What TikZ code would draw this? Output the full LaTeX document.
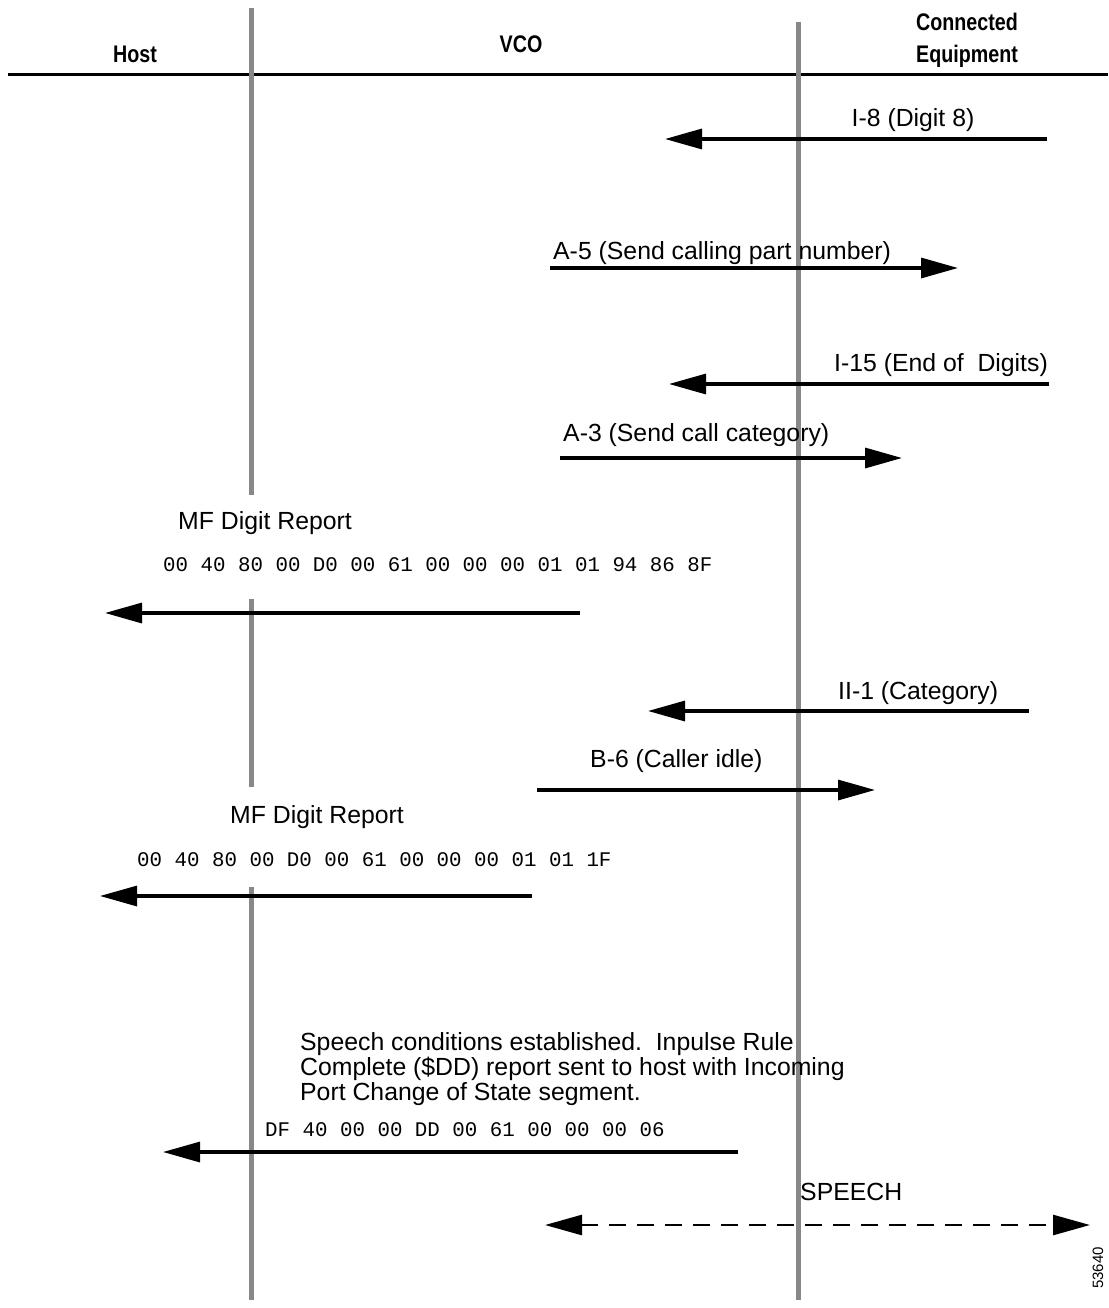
\documentclass[tikz,border=0pt]{standalone}
\usepackage{fontspec}
\setmainfont{Liberation Sans}
\setmonofont{Liberation Mono}
\usetikzlibrary{arrows.meta}
\definecolor{lifegray}{RGB}{136,136,136}
\newcommand{\hdrtext}[1]{\scalebox{0.82}[1]{#1}}
\begin{document}
\begin{tikzpicture}[x=1pt,y=-1pt,
  lifeline/.style={draw=lifegray,line width=5pt},
  msg/.style={line width=3.2pt,-{Triangle[length=37pt,width=20pt]}},
  lbl/.style={inner sep=0pt,font=\fontsize{24.8}{25}\selectfont},
  hexlbl/.style={inner sep=0pt,font=\ttfamily\fontsize{20.8}{22}\selectfont},
  hdr/.style={inner sep=0pt,font=\bfseries\fontsize{24}{26}\selectfont}]
\useasboundingbox (0,0) rectangle (1108,1308);

% header
\coordinate (hl1) at (8,75);
\coordinate (hl2) at (1108,75);
\draw[line width=3pt] (hl1) -- (hl2);
\node[hdr,anchor=base] (host) at (135,63) {\hdrtext{Host}};
\node[hdr,anchor=base] (vco) at (521,53) {\hdrtext{VCO}};
\node[hdr,anchor=base] (conn) at (967,31) {\hdrtext{Connected}};
\node[hdr,anchor=base] (equip) at (967,63) {\hdrtext{Equipment}};

% lifelines
\coordinate (hA1) at (251,8);   \coordinate (hA2) at (251,495);
\coordinate (hB1) at (251,599); \coordinate (hB2) at (251,787);
\coordinate (hC1) at (251,887); \coordinate (hC2) at (251,1300);
\coordinate (v1) at (798,22);   \coordinate (v2) at (798,1300);
\draw[lifeline] (hA1) -- (hA2);
\draw[lifeline] (hB1) -- (hB2);
\draw[lifeline] (hC1) -- (hC2);
\draw[lifeline] (v1) -- (v2);

% 1 I-8
\coordinate (m1s) at (1047,139); \coordinate (m1e) at (665,139);
\draw[msg] (m1s) -- (m1e);
\node[lbl,anchor=base] (l1) at (913,127) {I-8 (Digit 8)};

% 2 A-5
\coordinate (m2s) at (550,268); \coordinate (m2e) at (958,268);
\draw[msg] (m2s) -- (m2e);
\node[lbl,anchor=base west] (l2) at (553,259) {A-5 (Send calling part number)};

% 3 I-15
\coordinate (m3s) at (1049,384); \coordinate (m3e) at (669,384);
\draw[msg] (m3s) -- (m3e);
\node[lbl,anchor=base east] (l3) at (1048,371) {I-15 (End of\ \ Digits)};

% 4 A-3
\coordinate (m4s) at (560,458); \coordinate (m4e) at (902,458);
\draw[msg] (m4s) -- (m4e);
\node[lbl,anchor=base west] (l4) at (563,441) {A-3 (Send call category)};

% 5 MF digit report 1
\node[lbl,anchor=base west] (mf1) at (178,529) {MF Digit Report};
\node[hexlbl,anchor=base west] (hx1) at (163,571) {00 40 80 00 D0 00 61 00 00 00 01 01 94 86 8F};
\coordinate (m5s) at (580,613); \coordinate (m5e) at (105,613);
\draw[msg] (m5s) -- (m5e);

% 6 II-1
\coordinate (m6s) at (1029,711); \coordinate (m6e) at (648,711);
\draw[msg] (m6s) -- (m6e);
\node[lbl,anchor=base west] (l6) at (838,699) {II-1 (Category)};

% 7 B-6
\coordinate (m7s) at (537,790); \coordinate (m7e) at (875,790);
\draw[msg] (m7s) -- (m7e);
\node[lbl,anchor=base west] (l7) at (590,767) {B-6 (Caller idle)};

% 8 MF digit report 2
\node[lbl,anchor=base west] (mf2) at (230,823) {MF Digit Report};
\node[hexlbl,anchor=base west] (hx2) at (137,866) {00 40 80 00 D0 00 61 00 00 00 01 01 1F};
\coordinate (m8s) at (532,896); \coordinate (m8e) at (100,896);
\draw[msg] (m8s) -- (m8e);

% 9 speech conditions
\node[lbl,anchor=base west] (sp1) at (300,1050) {Speech conditions established.\ \ Inpulse Rule};
\node[lbl,anchor=base west] (sp2) at (300,1075) {Complete (\$DD) report sent to host with Incoming};
\node[lbl,anchor=base west] (sp3) at (300,1100) {Port Change of State segment.};

% 10 DF report
\node[hexlbl,anchor=base west] (hx3) at (265,1136) {DF 40 00 00 DD 00 61 00 00 00 06};
\coordinate (m10s) at (738,1152); \coordinate (m10e) at (163,1152);
\draw[msg] (m10s) -- (m10e);

% 11 speech
\node[lbl,anchor=base west] (spl) at (800,1200) {SPEECH};
\coordinate (m11a) at (545,1225); \coordinate (m11b) at (1090,1225);
\draw[line width=2.6pt,dash pattern=on 17pt off 11pt,
  {Triangle[length=37pt,width=20pt]}-{Triangle[length=37pt,width=20pt]}] (m11a) -- (m11b);

% figure number
\node[inner sep=0pt,rotate=90,font=\fontsize{15}{16}\selectfont] (fig) at (1098,1268) {53640};
\end{tikzpicture}
\end{document}
